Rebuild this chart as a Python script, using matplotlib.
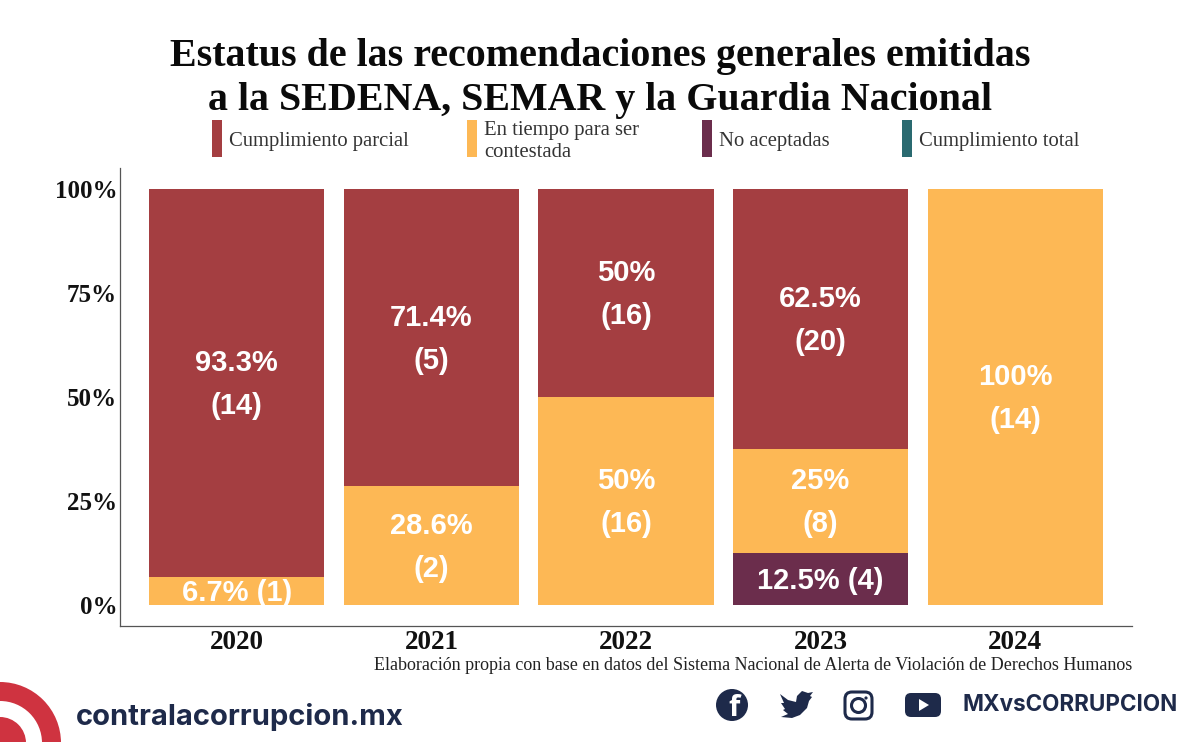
import numpy as np
import matplotlib
matplotlib.use("Agg")
import matplotlib.pyplot as plt
from matplotlib.patches import Circle, Rectangle, FancyBboxPatch, Polygon

# datos
anios = ["2020", "2021", "2022", "2023", "2024"]
no_aceptadas = [0, 0, 0, 12.5, 0]
en_tiempo = [6.7, 28.6, 50, 25, 100]
parcial = [93.3, 71.4, 50, 62.5, 0]
n_no_aceptadas = [0, 0, 0, 4, 0]
n_en_tiempo = [1, 2, 16, 8, 14]
n_parcial = [14, 5, 16, 20, 0]
ticks_y = [0, 25, 50, 75, 100]
ticks_y_txt = ["0%", "25%", "50%", "75%", "100%"]

titulo = "Estatus de las recomendaciones generales emitidas\na la SEDENA, SEMAR y la Guardia Nacional"
fuente = "Elaboración propia con base en datos del Sistema Nacional de Alerta de Violación de Derechos Humanos"

ROJO = "#A43E41"
AMARILLO = "#FDB855"
MORADO = "#6B2D4C"
VERDE = "#2A6A70"
AZUL = "#1E2A4A"
SERIF = "Liberation Serif"
W, H = 1200, 742

fig = plt.figure(figsize=(W / 100, H / 100), dpi=100, facecolor="white")
ax = fig.add_axes([120 / W, 1 - 626 / H, (1132 - 120) / W, (626 - 168) / H])

x = np.arange(len(anios))
base = np.zeros(len(anios))
series = [(no_aceptadas, n_no_aceptadas, MORADO),
          (en_tiempo, n_en_tiempo, AMARILLO),
          (parcial, n_parcial, ROJO)]
for valores, cuentas, color in series:
    ax.bar(x, valores, width=0.9, bottom=base, color=color, linewidth=0)
    for i, (v, n) in enumerate(zip(valores, cuentas)):
        if v == 0:
            continue
        sep = " " if v < 15 else "\n"
        ax.annotate(f"{v:g}%{sep}({n})", (x[i], base[i] + v / 2), xytext=(0, -1.2),
                    textcoords="offset points", ha="center", va="center", color="white",
                    fontsize=21, fontweight="bold", family="Liberation Sans", linespacing=1.68)
    base = base + np.array(valores)

ax.set_xlim(-0.6, 4.6)
ax.set_ylim(-5.05, 105)
ax.set_xticks(x)
ax.set_xticklabels(anios, family=SERIF, fontweight="bold", fontsize=19.5, color="#111111")
ax.set_yticks(ticks_y)
ax.set_yticklabels(ticks_y_txt, family=SERIF, fontweight="bold", fontsize=18, color="#111111")
ax.tick_params(length=0, axis="x", pad=3)
ax.tick_params(length=0, axis="y", pad=2)
for lado in ["top", "right"]:
    ax.spines[lado].set_visible(False)
for lado in ["left", "bottom"]:
    ax.spines[lado].set_color("#555555")
    ax.spines[lado].set_linewidth(0.9)

# capa en pixeles para titulo, leyenda y pie
capa = fig.add_axes([0, 0, 1, 1], facecolor="none")
capa.set_xlim(0, W)
capa.set_ylim(H, 0)
capa.axis("off")

capa.text(600, 78.5, titulo, ha="center", va="center", family=SERIF, fontweight="bold",
          fontsize=28.8, color="#0a0a0a", linespacing=1.22)

leyenda = [(212, ROJO, "Cumplimiento parcial"),
           (467, AMARILLO, "En tiempo para ser\ncontestada"),
           (702, MORADO, "No aceptadas"),
           (902, VERDE, "Cumplimiento total")]
for lx, color, txt in leyenda:
    capa.add_patch(Rectangle((lx, 120), 10, 37, color=color, linewidth=0))
    capa.text(lx + 17, 141.5, txt, ha="left", va="center", family=SERIF, fontsize=14.85,
              color="#333333", linespacing=1.25)

capa.text(1132, 665.5, fuente, ha="right", va="center", family=SERIF, fontsize=13, color="#222222")

# logo
for r, color in [(61, "#CF3340"), (42, "white"), (26, "#CF3340")]:
    capa.add_patch(Circle((0, 743), r, color=color, linewidth=0, clip_on=True))
capa.text(76, 717, "contralacorrupcion.mx", ha="left", va="center", family="Inter",
          fontweight="bold", fontsize=21, color=AZUL)
capa.text(963, 705, "MXvsCORRUPCION", ha="left", va="center", family="Inter",
          fontweight="bold", fontsize=16.2, color=AZUL)

# iconos
capa.add_patch(Circle((732, 705), 16, color=AZUL, linewidth=0))
capa.text(734, 708, "f", ha="center", va="center", family="Open Sans", fontweight="bold",
          fontsize=21, color="white")
pajaro = [(780, 694), (788, 700), (796, 702), (797, 696), (802, 691), (808, 693), (813, 692),
          (810, 696), (812, 697), (809, 701), (807, 708), (800, 715), (792, 718), (781, 717),
          (788, 714), (783, 710), (785, 709), (781, 703), (784, 703)]
capa.add_patch(Polygon(pajaro, closed=True, color=AZUL, linewidth=0))
capa.add_patch(FancyBboxPatch((845, 692), 27, 27, boxstyle="round,pad=0,rounding_size=7",
                              fill=False, edgecolor=AZUL, linewidth=2.2))
capa.add_patch(Circle((858.5, 705.5), 7, fill=False, edgecolor=AZUL, linewidth=2.2))
capa.add_patch(Circle((866, 698), 1.6, color=AZUL, linewidth=0))
capa.add_patch(FancyBboxPatch((905, 693), 36, 24, boxstyle="round,pad=0,rounding_size=6",
                              facecolor=AZUL, edgecolor="none"))
capa.add_patch(Polygon([(919, 699), (919, 711), (929, 705)], closed=True, color="white", linewidth=0))

fig.savefig("out.png", dpi=100, facecolor="white")
